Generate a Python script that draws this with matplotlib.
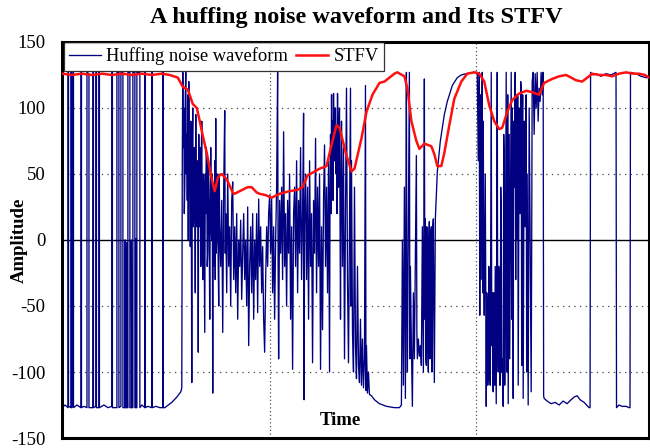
import numpy as np
import matplotlib.pyplot as plt

# --- waveform (time index, amplitude), piece by piece ---
# quiet part: signal clipped at -127 with short pulses to +127
wave_quiet = [
    (0, -127), (3, -125), (6, -127), (6, 127), (6.5, 127), (6.5, -126), (9, -127), (9, 127),
    (9.5, 126), (9.5, -127), (11, -126), (11, 127), (11.5, 127), (11.5, -127), (15, -125),
    (19, -127), (19, 127), (19.5, 127), (19.5, -127), (22, -126), (25, -127), (25, 127),
    (27, 126), (27, -127), (31, -127), (31, 127), (31.5, 127), (31.5, -127), (34, -126),
    (34, 127), (34.5, 127), (34.5, -127), (37, -127), (37, 127), (37.5, 126), (37.5, -127),
    (42, -125), (46, -127), (50, -126), (50, 127), (50.5, 127), (50.5, -127), (55, -127),
    (55, 127), (57, 127), (57, -127), (59, -126), (59, 127), (61, 127), (61, -127), (63, -127),
    (63, 0), (63.5, 0), (63.5, -127), (65, -127), (65, -2), (65.5, -127), (66, -127), (66, 127),
    (68, 127), (68, -127), (69.5, -127), (69.5, 0), (70, -127), (71, -127), (71, 127), (73, 127),
    (73, -127), (74, -127), (74, 1), (74.5, -127), (75, -127), (75, 127), (78, 127), (78, -127),
    (80, -125), (83, -127), (83, 127), (83.5, 127), (83.5, -127), (86, -126), (90, -127),
    (90, 127), (90.5, 127), (90.5, -127), (94, -126), (98, -127), (101, -127), (101, 127),
    (101.5, 127), (101.5, -127), (103, -127), (110, -123), (115, -119), (119, -115), (120, -112),
]

# first huff
wave_huff1 = [
    (120.5, 64), (121, 127), (121.5, 70), (122, 100), (122.5, 20), (123, 40), (123.5, 110),
    (124, 127), (124.5, 50), (125, 80), (125.5, 30), (126, 110), (126.5, 0), (127, 120),
    (127.5, 40), (128, 60), (128.5, -5), (129, 90), (129.5, 30), (130, -108), (130.5, 70),
    (131, 100), (131.5, 10), (132, 20), (132.5, 70), (133, 60), (133.5, -40), (134, 95),
    (134.5, 20), (135, 10), (135.5, 60), (136, 50), (136.5, -85), (137, 80), (137.5, 10),
    (138, 30), (138.5, 70), (139, -20), (139.5, 60), (140, 90), (140.5, 0), (141, -30),
    (141.5, 50), (142, 40), (142.5, -10), (143, -70), (143.5, 50), (144, 20), (144.5, 70),
    (145, 60), (145.5, -20), (146, -10), (146.5, 60), (147, 40), (147.5, 0), (148, -60),
    (148.5, 30), (149, 70), (149.5, 10), (150, 0), (150.5, 50), (151, -116), (151.5, 40),
    (152, 20), (152.5, -20), (153, 60), (153.5, -30), (154, 92), (154.5, -10), (155, 0),
    (155.5, 50), (156, 40), (156.5, -20), (157, -50), (157.5, 50), (158, 10), (159, -20),
    (160, 30), (161, -70), (162, 40), (163, 98), (163.5, -10), (164, 20), (165, -40), (166, 50),
    (167, -20), (168, 10), (169, -50), (170, 30), (171, 44), (172, -30), (173, 10), (174, -40),
    (175, 20), (176, -60), (177, 0), (178, -20), (179, 15), (180, -45), (181, -10), (182, 20),
    (183, -30), (184, 0), (185, -50), (186, 25), (187, -80), (188, -20), (189, 10), (190, -40),
    (191, 20), (192, -60), (193, 0), (194, -30), (195, 20), (196, -55), (197, 31), (198, -20),
    (199, 10), (200, -40), (201, -5), (202, -60), (203, -85), (204, -30), (205, 10), (206, -20),
    (207, 20), (208, 34), (209, -10), (210, 31), (211, -40), (212, 10), (213, -60), (214, 0),
    (215, 40), (216, 127), (216.5, -20), (217, -90), (218, 30), (219, -10), (220, 40),
    (221, -30), (222, 82), (223, -20), (224, 20), (225, -50), (226, 30), (227, -10), (228, 50),
    (229, -60), (230, 10), (231, -98), (232, 20), (233, 40), (234, -20), (235, 60), (236, -40),
    (237, 30), (238, -10), (239, 70), (240, -30), (241, 20), (242, 96), (242.5, -121), (243, 10),
    (244, 50), (245, -30), (246, 40), (247, -60), (248, 60), (249, -20), (250, 20), (251, -93),
    (252, 30), (253, -10), (254, 77), (255, -40), (256, 40), (257, -20), (258, 50), (259, -98),
    (260, 10), (261, -68), (262, 30), (263, 72), (264, -20), (265, 40), (266, -40), (267, 60),
    (268, -100), (268.5, 40), (269, 80), (269.5, 20), (270, 110), (270.5, 60), (271, 90),
    (271.5, 30), (272, 111), (272.5, 70), (273, 60), (273.5, 100), (274, 100), (274.5, 50),
    (275, 85), (275.5, 20), (276, 111), (276.5, 60), (277, 40), (277.5, 90), (278, 100),
    (279, -60), (279.5, 40), (280, 90), (281, -20), (282, 70), (283, -90), (284, 20), (285, 115),
    (286, -30), (287, -93), (288, 10), (289, 115), (289.5, -50), (290, 60), (291, -70),
    (292, -100), (293, 40), (294, -80), (295, -105), (296, -20), (297, -95), (298, -108),
    (299, -60), (300, -110), (301, -75), (302, -112), (303, -90), (304, 117), (304.5, -114),
    (305, -80), (306, -116), (307, -100), (308, -117), (310, -118), (313, -121), (318, -124),
    (325, -126), (333, -127), (338, -127), (340, -125),
]

# second huff and the swell back to +127
wave_huff2 = [
    (341, 0), (342, -110), (343, 40), (344, -120), (345, 127), (345.5, -60), (346, -100),
    (347, 20), (348, 127), (348.5, -90), (349, -20), (350, -80), (351, -126), (352, -40),
    (353, -90), (354, -10), (355, 64), (355.5, -70), (356, -90), (357, -75), (358, -88),
    (359, -80), (360, -95), (361, 10), (362, -100), (363, 122), (363.5, -60), (364, 16),
    (364.5, -90), (365, -95), (365.5, 10), (366, 0), (366.5, -80), (367, -100), (367.5, 0),
    (368, 14), (368.5, -90), (369, -80), (369.5, 5), (370, 10), (370.5, -100), (371, -90),
    (371.5, 10), (372, 16), (373, -108), (374, 16), (376, 52), (379, 75), (383, 95), (386, 105),
    (391, 117), (396, 123), (400, 125), (405, 126), (413, 127), (416, 127),
]

# third huff
wave_huff3 = [
    (417, 60), (418, 127), (418.5, -57), (419, 110), (419.5, -30), (420, 20), (420.5, 90),
    (421, 127), (421.5, -40), (422, 90), (422.5, -20), (423, -57), (424, 50), (425, -126),
    (425.5, -40), (426, -60), (426.5, -110), (427, -100), (427.5, -20), (428, -30), (428.5, -100),
    (429, -110), (430, 127), (430.5, -80), (431, -40), (431.5, -110), (432, -115), (432.5, -40),
    (433, -60), (433.5, -110), (434, -20), (435, -124), (436, 127), (436.5, -70), (437, -100),
    (437.5, -20), (438, -30), (438.5, -110), (439, -110), (439.5, 40), (440, 20), (440.5, -100),
    (441, -90), (442, -126), (442.5, 80), (443, 60), (443.5, -110), (444, -50), (445, 127),
    (445.5, -100), (446, 30), (446.5, 110), (447, -124), (448, 80), (448.5, -90), (449, -20),
    (450, 127), (450.5, -60), (451, 100), (451.5, 20), (452, -120), (452.5, 90), (453, 40),
    (454, 127), (454.5, -30), (455, 110), (455.5, 30), (456, 0), (456.5, 110), (457, -110),
    (458, 100), (458.5, 40), (459, 20), (459.5, 120), (460, 115), (460.5, -95), (461, 60),
    (461.5, 110), (462, -120), (463, 90), (463.5, 30), (464, 10), (465, 110), (465.5, -100),
    (466, 50), (467, -125), (468, 100), (469, 0), (470, -115), (470.5, -10), (471, 120),
    (472, 127), (473, 80), (474, 126), (475, 100), (476, 127), (477, 90), (478, 115), (479, 105),
    (480, 127), (481, 110), (482, 127), (482.5, -118),
]

# tail: clipped low, then long clipped-high stretches
wave_tail = [
    (483, -120), (486, -122), (490, -124), (494, -123), (498, -125), (502, -122), (506, -124),
    (510, -121), (513, -119), (516, -118), (519, -121), (523, -123), (528, -127), (529, -127),
    (529.5, 127), (532, 125), (535, 126), (540, 124), (545, 126), (550, 125), (555, 127),
    (555.5, -127), (558, -125), (561, -126), (565, -126), (568, -127), (569, -127), (569.5, 127),
    (575, 126), (580, 124), (585, 123), (588, 123),
]

# STFV curve
stfv_t = [0, 10, 20, 30, 40, 50, 60, 70, 80, 90, 100, 108, 116, 121, 126, 131, 135, 138, 141,
          145, 148, 150, 153, 156, 158, 160, 165, 171, 173, 178, 186, 190, 195, 198, 204, 210,
          218, 228, 236, 241, 246, 251, 258, 265, 270, 275, 278, 285, 290, 293, 300, 305, 311,
          318, 323, 333, 336, 343, 346, 350, 355, 358, 363, 370, 373, 376, 380, 383, 388, 393,
          400, 406, 413, 418, 423, 428, 433, 438, 441, 446, 451, 458, 465, 471, 478, 483, 491,
          498, 505, 515, 521, 528, 531, 538, 545, 551, 558, 565, 572, 578, 584, 588]
stfv_y = [126, 125, 126, 125, 126, 125, 126, 125, 126, 125, 126, 125, 123, 116, 114, 103, 100,
          90, 79, 66, 54, 46, 37, 47, 49, 50, 46, 36, 35, 37, 40, 40, 36, 35, 34, 32, 35, 37, 38,
          40, 49, 51, 54, 56, 72, 87, 85, 64, 52, 54, 77, 97, 110, 119, 120, 126, 127, 124, 115,
          90, 75, 69, 73, 71, 65, 56, 56, 66, 87, 107, 120, 126, 127, 126, 120, 102, 90, 84, 85,
          97, 106, 111, 113, 112, 110, 119, 122, 124, 125, 121, 120, 124, 126, 125, 125, 124,
          126, 127, 126, 126, 125, 123]

grid_times = [208, 415]
y_ticks = [-150, -100, -50, 0, 50, 100, 150]

wave = np.array(wave_quiet + wave_huff1 + wave_huff2 + wave_huff3 + wave_tail)

plt.rcParams['font.family'] = ['Liberation Serif', 'DejaVu Serif']
plt.rcParams['axes.unicode_minus'] = False

fig = plt.figure(figsize=(6.5, 4.48), dpi=100)
ax = fig.add_axes([0.0954, 0.0223, 0.9030, 0.8840])

# grid
for yv in [-100, -50, 50, 100]:
    ax.axhline(yv, color='#444444', lw=0.9, linestyle=(0, (1, 3.5)), zorder=1)
ax.axhline(0, color='black', lw=1.0, zorder=1)
for tv in grid_times:
    ax.axvline(tv, color='#555555', lw=0.9, linestyle=(0, (1, 2)), zorder=1)

ax.plot(wave[:, 0], wave[:, 1], color='#000080', lw=0.95, label='Huffing noise waveform', zorder=2)
ax.plot(stfv_t, stfv_y, color='#ff1010', lw=1.8, label='STFV', zorder=3)

ax.set_xlim(0, 588)
ax.set_ylim(-150, 150)
ax.set_xticks([])
ax.set_yticks(y_ticks)
ax.tick_params(axis='y', length=0, pad=12, labelsize=13.5)
for s in ax.spines.values():
    s.set_linewidth(2.2)

ax.set_ylabel('Amplitude', fontsize=13.5, fontweight='bold')
ax.yaxis.set_label_coords(-0.058, 0.5)
ax.text(0.475, 0.045, 'Time', transform=ax.transAxes, ha='center', va='center',
        fontsize=13.5, fontweight='bold')
fig.suptitle('A huffing noise waveform and Its STFV', x=0.548, fontsize=17.5,
             fontweight='bold', y=0.985)

leg = ax.legend(loc='upper left', ncol=2, fontsize=13.3, frameon=True, fancybox=False,
                edgecolor='black', borderaxespad=0.0, handlelength=1.7, handletextpad=0.3,
                columnspacing=0.45, borderpad=0.3, bbox_to_anchor=(0.003, 1.0))
leg.get_frame().set_linewidth(0.9)

fig.savefig('out.png', dpi=100)
